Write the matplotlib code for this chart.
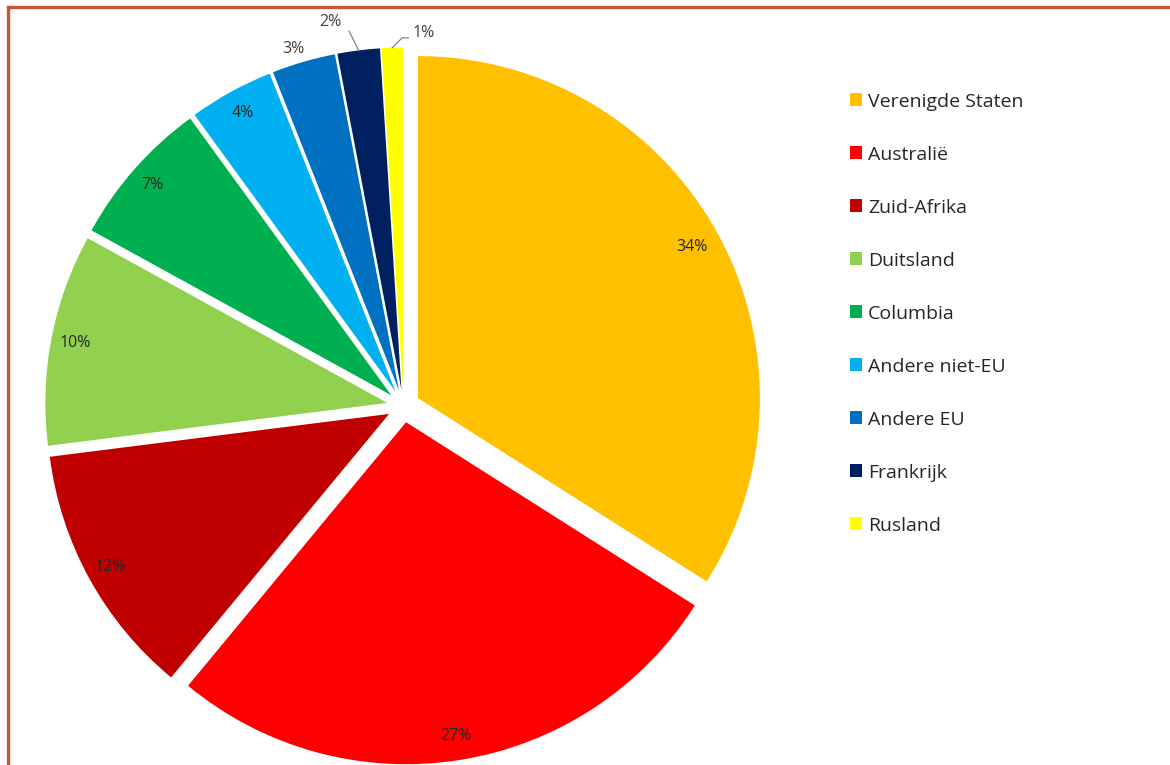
import numpy as np
import matplotlib
matplotlib.use('Agg')
import matplotlib.pyplot as plt
from matplotlib.lines import Line2D

plt.rcParams['font.family'] = ['Open Sans', 'DejaVu Sans']

landen = ['Verenigde Staten', 'Australië', 'Zuid-Afrika', 'Duitsland', 'Columbia',
          'Andere niet-EU', 'Andere EU', 'Frankrijk', 'Rusland']
aandeel = [34, 27, 12, 10, 7, 4, 3, 2, 1]
kleuren = ['#FFC000', '#FF0000', '#C00000', '#92D050', '#00B050',
           '#00B0F0', '#0070C0', '#002060', '#FFFF00']

W, H = 1170, 765
fig = plt.figure(figsize=(W / 100, H / 100), dpi=100)
ax = fig.add_axes([0, 0, 1, 1])

explode = [0.048] * len(aandeel)
wedges, _ = ax.pie(aandeel, colors=kleuren, explode=explode, startangle=90,
                   counterclock=False, radius=1.0, wedgeprops=dict(linewidth=0))

# percentage labels
for i, w in enumerate(wedges):
    mid = np.deg2rad((w.theta1 + w.theta2) / 2)
    cx, cy = w.center
    txt = '%d%%' % aandeel[i]
    if aandeel[i] >= 4:
        r = 0.915 if i == 0 else 0.93
        ax.text(cx + r * np.cos(mid), cy + r * np.sin(mid), txt,
                ha='center', va='center', fontsize=11.5, color='#262626')
    elif aandeel[i] == 3:
        ax.text(cx + 1.045 * np.cos(mid + 0.018), cy + 1.045 * np.sin(mid + 0.018), txt,
                ha='center', va='center', fontsize=11.5, color='#404040')
    else:
        px, py = cx + np.cos(mid), cy + np.sin(mid)
        if aandeel[i] == 2:
            lx, ly = px - 0.028, py + 0.057
            ax.plot([px, lx], [py, ly], color='#808080', lw=0.9)
            ax.text(lx - 0.022, ly + 0.026, txt, ha='right', va='center',
                    fontsize=11.5, color='#404040')
        else:
            lx, ly = px + 0.029, py + 0.029
            ax.plot([px, lx, lx + 0.018], [py, ly, ly], color='#808080', lw=0.9)
            ax.text(lx + 0.029, ly + 0.013, txt, ha='left', va='center',
                    fontsize=11.5, color='#404040')

R = 342.0
cx0, cy0 = 403.5, 406.0
ax.set_xlim(-cx0 / R, (W - cx0) / R)
ax.set_ylim(-(H - cy0) / R, cy0 / R)
ax.set_aspect('equal')
ax.axis('off')

fig.legend(wedges, landen, loc='upper left', bbox_to_anchor=(840 / W, 1 - 83 / H),
           frameon=False, fontsize=14, handlelength=0.65, handleheight=0.65,
           handletextpad=0.3, labelspacing=1.8, borderpad=0, labelcolor='#262626')

rand = '#C5563A'
fig.add_artist(Line2D([7.5 / W, 7.5 / W], [0, 1 - 6.5 / H], color=rand, lw=2.4))
fig.add_artist(Line2D([7.5 / W, 1], [1 - 6.5 / H, 1 - 6.5 / H], color=rand, lw=2.4))

fig.savefig('out.png', dpi=100)
